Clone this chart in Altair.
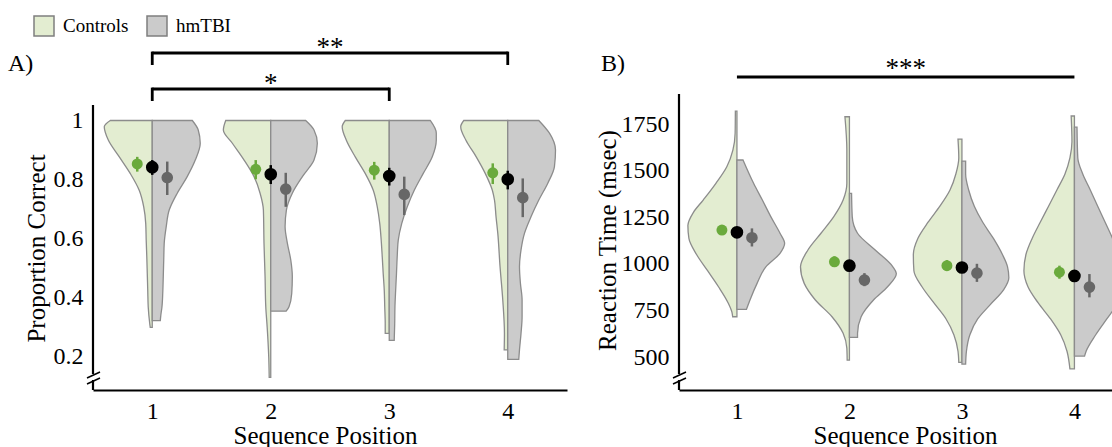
import altair as alt
import pandas as pd

FONT = "Liberation Serif"
GROUPS = ["Controls", "hmTBI"]
POSITIONS = [1, 2, 3, 4]

FILL_COLORS = ["#e3edd1", "#cbcbcb"]
OUTLINE = "#8c8c8c"
C_CTRL, C_ALL, C_TBI = "#6aaa3c", "#000000", "#676767"

# ---------------- Panel A: Proportion Correct (value, half-width in x units)
A_C1_V = [1.0, 0.979, 0.934, 0.877, 0.821, 0.764, 0.708, 0.651, 0.595, 0.538, 0.482, 0.425, 0.369, 0.312, 0.30]
A_C1_W = [0.354, 0.405, 0.371, 0.278, 0.186, 0.110, 0.072, 0.055, 0.051, 0.046, 0.042, 0.038, 0.034, 0.021, 0.017]
A_T1_V = [1.0, 0.968, 0.923, 0.866, 0.81, 0.754, 0.697, 0.641, 0.585, 0.53, 0.472, 0.42, 0.37, 0.34, 0.323]
A_T1_W = [0.338, 0.388, 0.405, 0.363, 0.295, 0.211, 0.143, 0.118, 0.101, 0.097, 0.093, 0.089, 0.082, 0.072, 0.068]
A_C2_V = [1.0, 0.968, 0.923, 0.866, 0.81, 0.754, 0.697, 0.585, 0.472, 0.37, 0.3, 0.2, 0.131]
A_C2_W = [0.380, 0.400, 0.324, 0.225, 0.141, 0.090, 0.062, 0.057, 0.048, 0.042, 0.030, 0.017, 0.013]
A_T2_V = [1.0, 0.968, 0.923, 0.866, 0.81, 0.754, 0.697, 0.641, 0.585, 0.528, 0.472, 0.415, 0.37, 0.355]
A_T2_W = [0.295, 0.365, 0.393, 0.365, 0.267, 0.182, 0.132, 0.121, 0.140, 0.169, 0.182, 0.177, 0.154, 0.130]
A_C3_V = [1.0, 0.979, 0.934, 0.877, 0.821, 0.764, 0.708, 0.651, 0.595, 0.538, 0.482, 0.425, 0.369, 0.312, 0.28]
A_C3_W = [0.371, 0.397, 0.363, 0.287, 0.203, 0.135, 0.101, 0.080, 0.068, 0.059, 0.051, 0.042, 0.038, 0.034, 0.034]
A_T3_V = [1.0, 0.957, 0.934, 0.877, 0.821, 0.764, 0.708, 0.651, 0.595, 0.538, 0.482, 0.425, 0.369, 0.312, 0.256]
A_T3_W = [0.346, 0.397, 0.397, 0.363, 0.287, 0.211, 0.152, 0.105, 0.076, 0.067, 0.061, 0.054, 0.048, 0.046, 0.042]
A_C4_V = [1.0, 0.979, 0.934, 0.877, 0.821, 0.764, 0.731, 0.675, 0.618, 0.505, 0.393, 0.28, 0.224]
A_C4_W = [0.371, 0.397, 0.354, 0.266, 0.190, 0.130, 0.112, 0.099, 0.084, 0.065, 0.042, 0.028, 0.030]
A_T4_V = [1.0, 0.957, 0.9, 0.844, 0.788, 0.731, 0.675, 0.618, 0.562, 0.505, 0.449, 0.393, 0.336, 0.28, 0.224, 0.192]
A_T4_W = [0.262, 0.352, 0.403, 0.394, 0.338, 0.262, 0.197, 0.141, 0.112, 0.099, 0.107, 0.121, 0.121, 0.112, 0.099, 0.093]

A_CTRL_MEAN = [0.853, 0.835, 0.832, 0.823]
A_CTRL_LO = [0.827, 0.801, 0.800, 0.785]
A_CTRL_HI = [0.877, 0.866, 0.860, 0.855]
A_ALL_MEAN = [0.842, 0.818, 0.812, 0.801]
A_ALL_LO = [0.816, 0.785, 0.780, 0.767]
A_ALL_HI = [0.866, 0.849, 0.840, 0.830]
A_TBI_MEAN = [0.807, 0.768, 0.750, 0.739]
A_TBI_LO = [0.748, 0.708, 0.680, 0.673]
A_TBI_HI = [0.861, 0.823, 0.810, 0.804]

# ---------------- Panel B: Reaction Time (msec)
B_C1_V = [1819, 1700, 1610, 1521, 1432, 1342, 1275, 1205, 1136, 1050, 963, 877, 790, 739, 716]
B_C1_W = [0.014, 0.016, 0.036, 0.090, 0.187, 0.300, 0.388, 0.436, 0.427, 0.359, 0.261, 0.164, 0.078, 0.044, 0.038]
B_T1_V = [1557, 1432, 1342, 1253, 1164, 1110, 1056, 984, 895, 806, 756]
B_T1_W = [0.054, 0.148, 0.226, 0.301, 0.383, 0.424, 0.383, 0.257, 0.179, 0.116, 0.085]
B_C2_V = [1789, 1610, 1432, 1342, 1253, 1164, 1074, 984, 895, 806, 716, 627, 547, 483]
B_C2_W = [0.040, 0.023, 0.023, 0.056, 0.139, 0.253, 0.369, 0.435, 0.402, 0.303, 0.155, 0.056, 0.023, 0.020]
B_T2_V = [1378, 1253, 1164, 1074, 984, 948, 877, 806, 716, 627, 605]
B_T2_W = [0.019, 0.025, 0.072, 0.229, 0.386, 0.417, 0.339, 0.214, 0.104, 0.072, 0.072]
B_C3_V = [1669, 1568, 1482, 1396, 1309, 1223, 1136, 1050, 963, 877, 790, 704, 618, 531, 471]
B_C3_W = [0.035, 0.028, 0.054, 0.106, 0.196, 0.301, 0.392, 0.432, 0.427, 0.355, 0.249, 0.141, 0.071, 0.035, 0.028]
B_T3_V = [1551, 1482, 1396, 1309, 1223, 1136, 1050, 985, 925, 860, 780, 704, 618, 531, 462]
B_T3_W = [0.033, 0.033, 0.060, 0.110, 0.185, 0.280, 0.360, 0.405, 0.417, 0.370, 0.250, 0.140, 0.070, 0.040, 0.033]
B_C4_V = [1793, 1655, 1568, 1482, 1396, 1309, 1223, 1136, 1050, 963, 877, 790, 704, 618, 531, 436]
B_C4_W = [0.029, 0.022, 0.040, 0.084, 0.156, 0.230, 0.304, 0.376, 0.431, 0.449, 0.413, 0.322, 0.212, 0.121, 0.066, 0.040]
B_T4_V = [1733, 1568, 1482, 1396, 1309, 1223, 1136, 1050, 963, 877, 790, 704, 618, 531, 505]
B_T4_W = [0.023, 0.030, 0.074, 0.141, 0.207, 0.273, 0.339, 0.386, 0.424, 0.434, 0.386, 0.288, 0.188, 0.104, 0.090]

B_CTRL_MEAN = [1181, 1011, 990, 955]
B_CTRL_LO = [1155, 985, 963, 920]
B_CTRL_HI = [1207, 1040, 1020, 990]
B_ALL_MEAN = [1169, 990, 980, 935]
B_ALL_LO = [1145, 965, 955, 905]
B_ALL_HI = [1195, 1015, 1005, 965]
B_TBI_MEAN = [1140, 913, 950, 875]
B_TBI_LO = [1093, 880, 903, 820]
B_TBI_HI = [1190, 950, 1000, 945]

A_Y_TICKS = [0.2, 0.4, 0.6, 0.8, 1.0]
B_Y_TICKS = [500, 750, 1000, 1250, 1500, 1750]

A_SIG = [(1, 4, "**"), (1, 3, "*")]
B_SIG = [(1, 4, "***")]

LEGEND_STROKES = ["#70ad47", "#7f7f7f"]

# ---------------- tables built from the arrays
VIOLINS = [
    ("A", "Controls", 1, A_C1_V, A_C1_W), ("A", "hmTBI", 1, A_T1_V, A_T1_W),
    ("A", "Controls", 2, A_C2_V, A_C2_W), ("A", "hmTBI", 2, A_T2_V, A_T2_W),
    ("A", "Controls", 3, A_C3_V, A_C3_W), ("A", "hmTBI", 3, A_T3_V, A_T3_W),
    ("A", "Controls", 4, A_C4_V, A_C4_W), ("A", "hmTBI", 4, A_T4_V, A_T4_W),
    ("B", "Controls", 1, B_C1_V, B_C1_W), ("B", "hmTBI", 1, B_T1_V, B_T1_W),
    ("B", "Controls", 2, B_C2_V, B_C2_W), ("B", "hmTBI", 2, B_T2_V, B_T2_W),
    ("B", "Controls", 3, B_C3_V, B_C3_W), ("B", "hmTBI", 3, B_T3_V, B_T3_W),
    ("B", "Controls", 4, B_C4_V, B_C4_W), ("B", "hmTBI", 4, B_T4_V, B_T4_W),
]
rows = []
for panel_name, grp, pos, vals, wids in VIOLINS:
    sign = -1 if grp == "Controls" else 1
    for v, w in zip(vals, wids):
        rows.append({"panel": panel_name, "group": grp, "vid": f"{panel_name}-{grp}-{pos}",
                     "value": v, "x": pos + sign * w, "x2": pos})
vdf = pd.DataFrame(rows)


def dots_df(mean, lo, hi):
    return pd.DataFrame({"pos": POSITIONS, "mean": mean, "lo": lo, "hi": hi})


A_DOTS = [(dots_df(A_CTRL_MEAN, A_CTRL_LO, A_CTRL_HI), C_CTRL, -15, 120),
          (dots_df(A_ALL_MEAN, A_ALL_LO, A_ALL_HI), C_ALL, 0, 160),
          (dots_df(A_TBI_MEAN, A_TBI_LO, A_TBI_HI), C_TBI, 15, 135)]
B_DOTS = [(dots_df(B_CTRL_MEAN, B_CTRL_LO, B_CTRL_HI), C_CTRL, -15, 120),
          (dots_df(B_ALL_MEAN, B_ALL_LO, B_ALL_HI), C_ALL, 0, 160),
          (dots_df(B_TBI_MEAN, B_TBI_LO, B_TBI_HI), C_TBI, 15, 135)]

ONE = pd.DataFrame({"k": [0]})
H = 296


def panel(name, x_dom, y_dom, width, y_ticks, y_fmt, y_title, y_title_x, y_title_y,
          x_title_x, axis_top, dots, sig, sig_levels, letter_x, show_legend, fancy_legend):
    xs = alt.Scale(domain=x_dom, nice=False, zero=False)
    ys = alt.Scale(domain=y_dom, nice=False, zero=False)
    legend = None
    if show_legend:
        lkw = dict(
            title=None, orient="none", legendX=-60, legendY=-79, direction="horizontal",
            symbolType="square", symbolSize=400, symbolStrokeWidth=1.5,
            symbolStrokeColor="#7f7f7f", labelFont=FONT, labelFontSize=19,
            labelColor="black", labelOffset=8, columnPadding=15, padding=0,
        )
        if fancy_legend:
            lkw["encode"] = {"symbols": {"stroke": {"value": {"expr":
                f"datum.value === '{GROUPS[0]}' ? '{LEGEND_STROKES[0]}' : '{LEGEND_STROKES[1]}'"}}}}
        legend = alt.Legend(**lkw)
    violin = alt.Chart(vdf[vdf.panel == name]).mark_area(
        orient="horizontal", interpolate="monotone", stroke=OUTLINE,
        strokeWidth=1.3, clip=True, opacity=1
    ).encode(
        y=alt.Y("value:Q", scale=ys, axis=alt.Axis(
            values=y_ticks, format=y_fmt, domain=False, ticks=False, grid=False,
            labelPadding=10, labelFont=FONT, labelFontSize=24, labelColor="black",
            title=y_title, titleX=y_title_x, titleY=y_title_y, titleAngle=270,
            titleBaseline="middle", titleAlign="center", titleFont=FONT,
            titleFontSize=25, titleFontWeight="normal", titleColor="black")),
        x=alt.X("x:Q", scale=xs, axis=alt.Axis(
            values=POSITIONS, format="d", ticks=False, grid=False, labelPadding=9,
            labelFont=FONT, labelFontSize=24, labelColor="black",
            domain=True, domainColor="black", domainWidth=2.2,
            title="Sequence Position", titleX=x_title_x, titleY=45,
            titleBaseline="middle", titleAlign="center", titleFont=FONT,
            titleFontSize=25, titleFontWeight="normal", titleColor="black")),
        x2="x2:Q",
        fill=alt.Fill("group:N", scale=alt.Scale(domain=GROUPS, range=FILL_COLORS),
                      legend=legend),
        detail="vid:N",
    )
    layers = [violin]
    for df, col, off, size in dots:
        layers.append(alt.Chart(df).mark_rule(color=col, strokeWidth=2.5, xOffset=off).encode(
            x=alt.X("pos:Q", scale=xs), y=alt.Y("lo:Q", scale=ys), y2="hi:Q"))
        layers.append(alt.Chart(df).mark_circle(color=col, size=size, opacity=1, xOffset=off).encode(
            x=alt.X("pos:Q", scale=xs), y=alt.Y("mean:Q", scale=ys)))
    # y-axis line and break marks
    layers.append(alt.Chart(ONE).mark_rule(color="black", strokeWidth=2.2).encode(
        x=alt.value(0), y=alt.value(axis_top), y2=alt.value(H)))
    layers.append(alt.Chart(ONE).mark_rule(color="white", strokeWidth=4).encode(
        x=alt.value(0), y=alt.value(280), y2=alt.value(286)))
    for yy in (0, 6):
        layers.append(alt.Chart(ONE).mark_rule(color="black", strokeWidth=1.6).encode(
            x=alt.value(-6), x2=alt.value(7), y=alt.value(284 + yy), y2=alt.value(278 + yy)))
    # significance brackets
    for (a, b, lab), (yb, tick, tdy) in zip(sig, sig_levels):
        sdf = pd.DataFrame({"a": [a], "b": [b], "m": [(a + b) / 2], "lab": [lab]})
        layers.append(alt.Chart(sdf).mark_rule(color="black", strokeWidth=2.8).encode(
            x=alt.X("a:Q", scale=xs), x2="b:Q", y=alt.value(yb)))
        if tick:
            for fld in ("a", "b"):
                layers.append(alt.Chart(sdf).mark_rule(color="black", strokeWidth=2.8).encode(
                    x=alt.X(f"{fld}:Q", scale=xs), y=alt.value(yb - 1.4),
                    y2=alt.value(yb + 12)))
        layers.append(alt.Chart(sdf).mark_text(font=FONT, fontSize=27, color="black",
                                               baseline="middle", align="center").encode(
            x=alt.X("m:Q", scale=xs), y=alt.value(yb + tdy), text="lab:N"))
    layers.append(alt.Chart(ONE).mark_text(text=f"{name})", font=FONT, fontSize=24, color="black",
                                           align="left", baseline="middle").encode(
        x=alt.value(letter_x), y=alt.value(-30)))
    if show_legend:
        # invisible frame anchor so that the padded page starts exactly at the window corner
        layers.append(alt.Chart(ONE).mark_rule(opacity=0, strokeWidth=0.01).encode(
            x=alt.value(-93), y=alt.value(-94), y2=alt.value(352)))
    return alt.layer(*layers).properties(width=width, height=H)


def build(fancy):
    A = panel("A", [0.5, 4.5], [0.0883, 1.0896], 474, A_Y_TICKS, "~g", "Proportion Correct",
              -57, 154, 232, 11, A_DOTS, A_SIG, [(-41, True, -5), (-5, True, -5)], -85,
              True, fancy)
    B = panel("B", [0.485, 4.334], [323, 1911], 433, B_Y_TICKS, "d", "Reaction Time (msec)",
              -72, 146, 226, 0, B_DOTS, B_SIG, [(-17, False, -8)], -78, False, fancy)
    return alt.hconcat(A, B, spacing=112, bounds="flush").properties(
        padding=0,
        background="white",
        autosize=alt.AutoSizeParams(type="pad"),
    ).configure_view(strokeWidth=0)


try:
    chart = build(True)
    chart.to_dict()
except Exception:
    chart = build(False)

chart.save("out.html", embed_options={"renderer": "svg", "actions": False})
